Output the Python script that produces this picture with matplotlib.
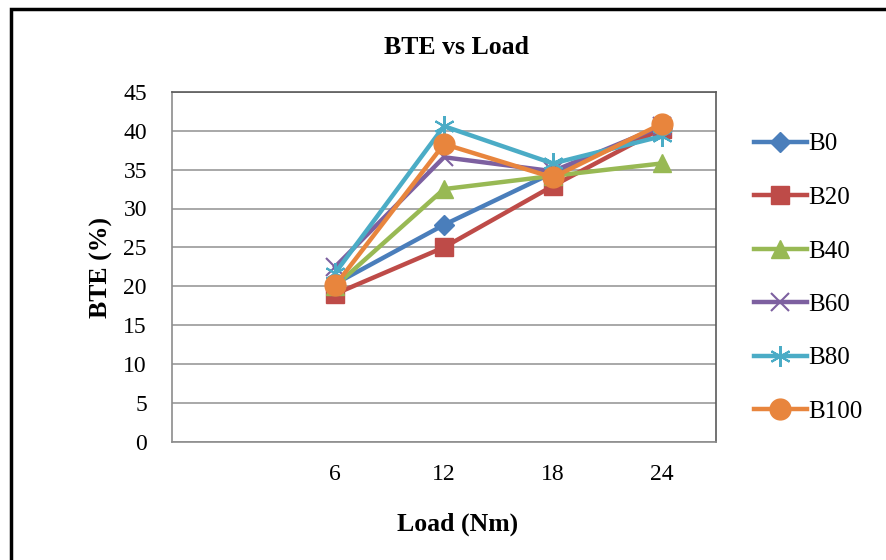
import numpy as np
import matplotlib.pyplot as plt
from matplotlib.patches import Rectangle

plt.rcParams['font.family'] = ['Liberation Serif', 'DejaVu Serif']

loads = ['6', '12', '18', '24']
b0 = [20.3, 27.9, 34.6, 40.4]
b20 = [19.0, 25.0, 32.9, 40.3]
b40 = [20.0, 32.5, 34.2, 35.8]
b60 = [22.5, 36.6, 34.8, 40.6]
b80 = [21.7, 40.6, 35.8, 39.3]
b100 = [20.1, 38.3, 34.0, 40.9]

names = ['B0', 'B20', 'B40', 'B60', 'B80', 'B100']
series = [b0, b20, b40, b60, b80, b100]
colors = ['#4A7EBB', '#BE4B48', '#98B954', '#7D60A0', '#4BACC6', '#E8853D']
markers = ['D', 's', '^', 'x', '*', 'o']
msizes = [10, 13, 13, 13, 15, 15]

fig = plt.figure(figsize=(8.87, 5.6), dpi=100)
ax = fig.add_axes([172/887, 1-441.5/560, 544/887, 349.5/560])

x = np.arange(1, len(loads) + 1)
handles = []
for name, vals, c, m, ms in zip(names, series, colors, markers, msizes):
    if m in ('x', '*'):
        # excel style star / cross markers drawn as thin strokes
        mk = m if m == 'x' else (6, 2, 0)
        h, = ax.plot(x, vals, color=c, lw=3.2, marker=mk, ms=ms,
                     markerfacecolor='none', markeredgecolor=c, markeredgewidth=1.5,
                     label=name, zorder=3)
    else:
        h, = ax.plot(x, vals, color=c, lw=3.2, marker=m, ms=ms,
                     markerfacecolor=c, markeredgecolor=c, label=name, zorder=3)
    handles.append(h)

ax.set_xlim(-0.5, 4.5)
ax.set_ylim(0, 45)
ax.set_yticks(np.arange(0, 46, 5))
ax.set_xticks(x)
ax.set_xticklabels(loads)
ax.tick_params(axis='both', length=0, labelsize=17)
ax.tick_params(axis='y', pad=18)
ax.tick_params(axis='x', pad=16)
ax.yaxis.grid(True, color='#9a9a9a', lw=1.2)
ax.set_axisbelow(True)
for s in ax.spines.values():
    s.set_color('#8c8c8c')
    s.set_linewidth(1.2)
ax.spines['top'].set_color('#5a5a5a')
ax.spines['right'].set_color('#5a5a5a')

fig.text(457/887, 1-47/560, 'BTE vs Load', ha='center', va='center',
         fontsize=18.5, fontweight='bold')
fig.text(458/887, 1-524/560, 'Load (Nm)', ha='center', va='center',
         fontsize=18.5, fontweight='bold')
fig.text(101/887, 1-267/560, 'BTE (%)', ha='center', va='center',
         fontsize=18.5, fontweight='bold', rotation=90)

fig.legend(handles=handles, loc='upper left', bbox_to_anchor=(744/887, 1-123/560),
           frameon=False, fontsize=18, handlelength=2.1, handletextpad=0.05,
           labelspacing=1.24, borderaxespad=0)

fig.patches.append(Rectangle((11/887, -0.01), 1, 1-9/560 + 0.01, transform=fig.transFigure,
                             fill=False, edgecolor='black', lw=2.5))

fig.savefig('out.png', dpi=100)
